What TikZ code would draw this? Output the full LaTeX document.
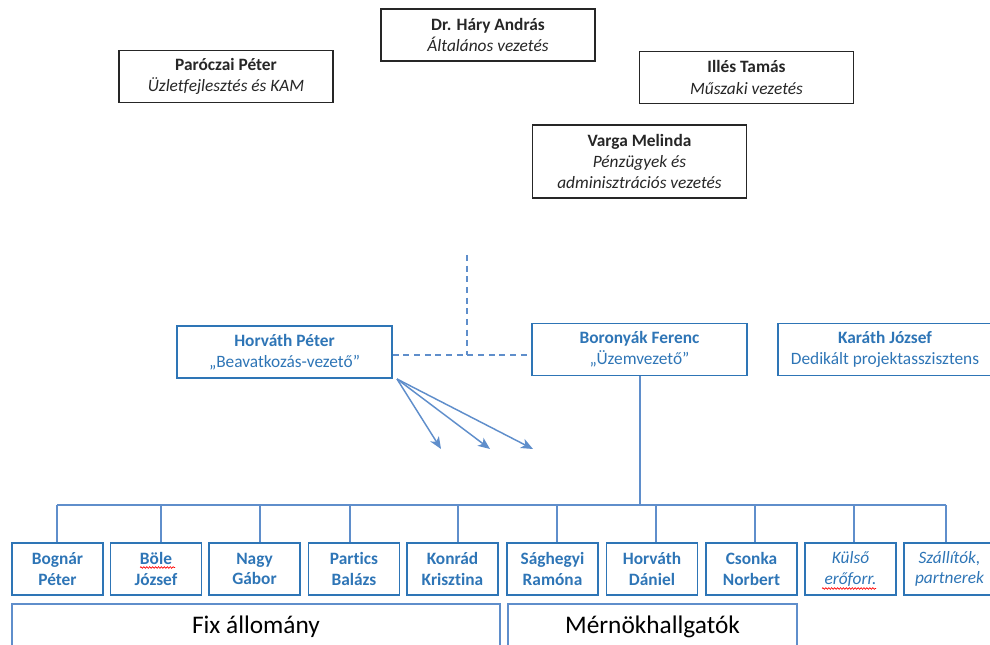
\documentclass[tikz,border=0pt]{standalone}
\usepackage{fontspec}
\setmainfont{Carlito}[Ligatures=NoCommon]
\usetikzlibrary{arrows.meta,decorations.pathmorphing}
\definecolor{tblue}{HTML}{2E75B6}
\definecolor{lblue}{HTML}{5F8ECB}
\definecolor{dgray}{HTML}{262626}
\begin{document}
\begin{tikzpicture}[x=0.75pt,y=-0.75pt,
  topbox/.style={draw=dgray, line width=0.9pt, align=center, text=dgray,
    font=\fontsize{13}{16}\selectfont, inner sep=0pt, minimum width=160.5pt, minimum height=39pt},
  bluebox/.style={draw=tblue, line width=1.2pt, align=center, text=tblue,
    font=\fontsize{13}{16}\selectfont, inner sep=0pt, minimum width=161.25pt, minimum height=39pt},
  smallbox/.style={bluebox, font=\bfseries\fontsize{13}{15.5}\selectfont, minimum width=68.5pt, minimum height=39pt},
  groupbox/.style={draw=lblue, line width=1pt, text=black, font=\fontsize{19}{22}\selectfont,
    inner sep=0pt, minimum height=34.5pt},
  conn/.style={draw=lblue, line width=1.1pt},
  dconn/.style={conn, dash pattern=on 4.5pt off 3.5pt},
  arr/.style={conn, -{Stealth[length=9pt,width=7.5pt,inset=2.5pt]}},
  spell/.style={draw=red, line width=0.5pt, decorate, decoration={snake,amplitude=0.6pt,segment length=2.2pt}}
]
\useasboundingbox (0,0) rectangle (990,645);
\clip (0,0) rectangle (990,645);

% top management
\node[topbox] (hary) at (488,35) {\textbf{Dr. Háry András}\\\textit{Általános vezetés}};
\node[topbox] (paroczai) at (226,76.5) {\textbf{Paróczai Péter}\\\textit{Üzletfejlesztés és KAM}};
\node[topbox] (illes) at (746.5,77.5) {\textbf{Illés Tamás}\\\textit{Műszaki vezetés}};
\node[topbox, minimum height=54.75pt] (varga) at (639.5,161.5) {\textbf{Varga Melinda}\\\textit{Pénzügyek és}\\\textit{adminisztrációs vezetés}};

% middle level
\node[bluebox] (horvathp) at (284.5,352) {\textbf{Horváth Péter}\\„Beavatkozás-vezető”};
\node[bluebox] (boronyak) at (639.5,349.5) {\textbf{Boronyák Ferenc}\\„Üzemvezető”};
\node[bluebox, minimum width=160.5pt] (karath) at (885,349.5) {\textbf{Karáth József}\\Dedikált projektasszisztens};

% dashed connection
\coordinate (dtop) at (467,255);
\coordinate (dj) at (467,355);
\draw[dconn] (horvathp.east |- dj) -- (boronyak.west |- dj);
\draw[dconn] (dtop) -- (dj);

% fan of arrows
\coordinate (fan) at (397,379);
\coordinate (a1) at (441,449);
\coordinate (a2) at (490,449);
\coordinate (a3) at (533,449);
\draw[arr] (fan) -- (a1);
\draw[arr] (fan) -- (a2);
\draw[arr] (fan) -- (a3);

% bottom staff
\node[smallbox] (bognar) at (57.5,569) {Bognár\\Péter};
\node[smallbox] (bole) at (156,569) {Böle\\József};
\node[smallbox] (nagy) at (254.5,569) {Nagy\\Gábor};
\node[smallbox] (partics) at (354,569) {Partics\\Balázs};
\node[smallbox] (konrad) at (452.5,569) {Konrád\\Krisztina};
\node[smallbox] (saghegyi) at (552.5,569) {Sághegyi\\Ramóna};
\node[smallbox] (horvathd) at (652,569) {Horváth\\Dániel};
\node[smallbox] (csonka) at (751.5,569) {Csonka\\Norbert};
\node[smallbox, font=\itshape\fontsize{13}{15.5}\selectfont] (kulso) at (850.5,569) {Külső\\erőforr.};
\node[smallbox, font=\itshape\fontsize{13}{15.5}\selectfont] (szallitok) at (949.5,569) {Szállítók,\\partnerek};

% spelling marks
\draw[spell] (140,567.5) -- (175,567.5);
\draw[spell] (822,588.5) -- (876,588.5);

% bus
\coordinate (s1) at (57,505);
\coordinate (s2) at (161,505);
\coordinate (s3) at (260,505);
\coordinate (s4) at (350,505);
\coordinate (s5) at (458,505);
\coordinate (s6) at (557,505);
\coordinate (s7) at (656,505);
\coordinate (s8) at (755,505);
\coordinate (s9) at (854,505);
\coordinate (s10) at (946,505);
\coordinate (bv) at (640,505);
\draw[conn] (s1) -- (s10);
\draw[conn] (boronyak.south -| bv) -- (bv);
\draw[conn] (s1) -- (bognar.north -| s1);
\draw[conn] (s2) -- (bole.north -| s2);
\draw[conn] (s3) -- (nagy.north -| s3);
\draw[conn] (s4) -- (partics.north -| s4);
\draw[conn] (s5) -- (konrad.north -| s5);
\draw[conn] (s6) -- (saghegyi.north -| s6);
\draw[conn] (s7) -- (horvathd.north -| s7);
\draw[conn] (s8) -- (csonka.north -| s8);
\draw[conn] (s9) -- (kulso.north -| s9);
\draw[conn] (s10) -- (szallitok.north -| s10);

% group boxes
\node[groupbox, minimum width=366pt] (fix) at (256,627) {Fix állomány};
\node[groupbox, minimum width=216.75pt] (mern) at (652.5,627) {Mérnökhallgatók};
\end{tikzpicture}
\end{document}
